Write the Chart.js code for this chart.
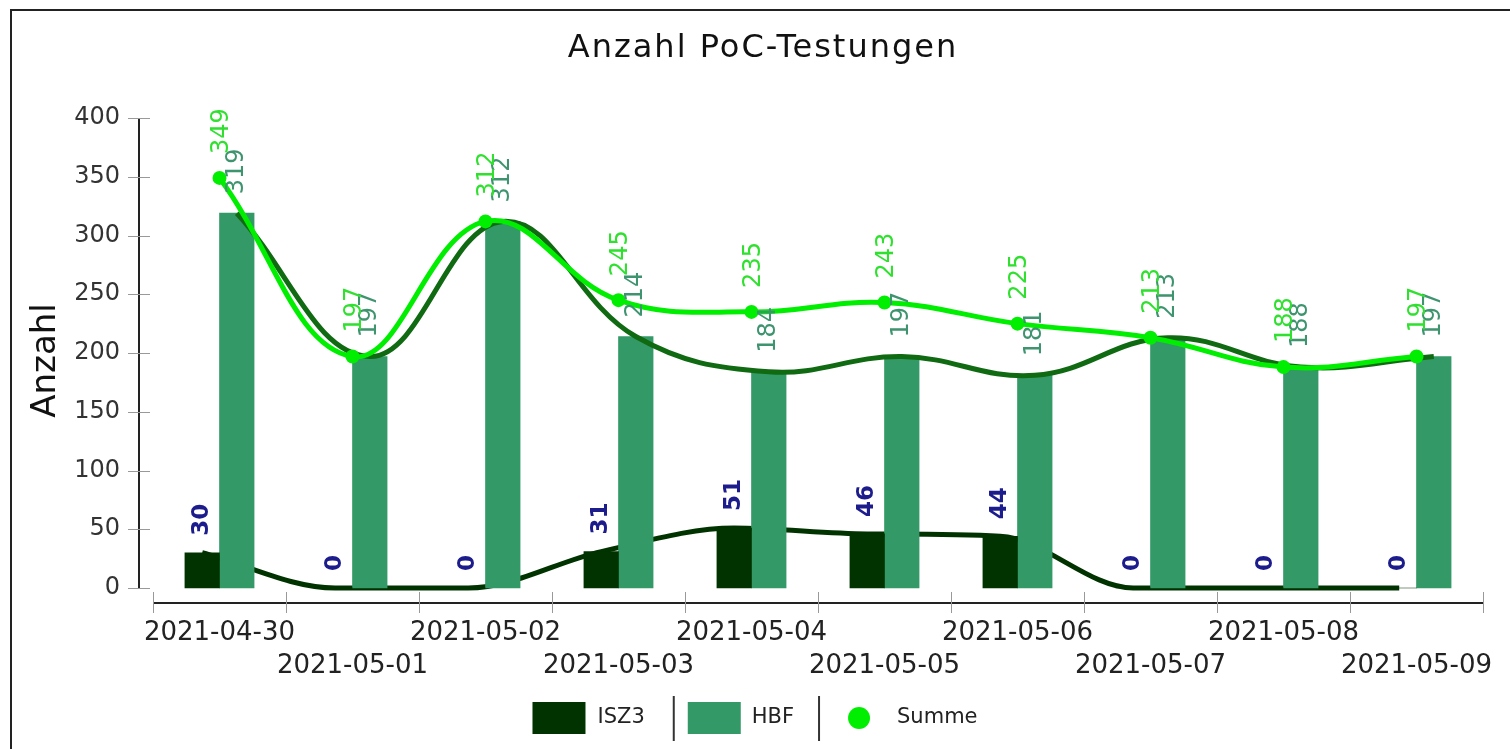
<!DOCTYPE html>
<html>
<head>
<meta charset="utf-8">
<script src="https://cdn.jsdelivr.net/npm/chart.js@4.4.1/dist/chart.umd.min.js"></script>
<style>
html,body{margin:0;padding:0;background:#fff;overflow:hidden}
#wrap{position:relative;width:1510px;height:749px}
</style>
</head>
<body>
<div id="wrap"><canvas id="c" width="1510" height="749"></canvas></div>
<script>
// ---- data ----
const categories = ['2021-04-30','2021-05-01','2021-05-02','2021-05-03','2021-05-04','2021-05-05','2021-05-06','2021-05-07','2021-05-08','2021-05-09'];
const isz3Values = [30, 0, 0, 31, 51, 46, 44, 0, 0, 0];
const hbfValues = [319, 197, 312, 214, 184, 197, 181, 213, 188, 197];
const summeValues = [349, 197, 312, 245, 235, 243, 225, 213, 188, 197];
const yTickValues = [0, 50, 100, 150, 200, 250, 300, 350, 400];
const chartTitle = 'Anzahl PoC-Testungen';
const yAxisTitle = 'Anzahl';
const seriesNames = ['ISZ3', 'HBF', 'Summe'];

// ---- styles / layout ----
const C_ISZ3 = '#003300';
const C_HBF = '#339966';
const C_HBF_LINE = '#0f6a12';
const C_SUM = '#00ee00';
const FONT = '"DejaVu Sans", Verdana, sans-serif';
const PAD_LEFT = 12, Y_SCALE_W = 141, PAD_RIGHT = 27, CANVAS_W = 1510;
const PLOT_W = CANVAS_W - PAD_LEFT - Y_SCALE_W - PAD_RIGHT;
const GROUP_PCT = 0.52;                       // share of a category taken by the two bars
const barOff = GROUP_PCT / 4;                 // bar centre offset from category centre (category units)
const BAR_PX = PLOT_W / categories.length * GROUP_PCT / 2;

const yMax = 400;
const yMin = -yMax * 15 / 470; // gap between value 0 and the x axis line

function points(values, off) {
  return values.map((v, i) => ({ x: i + off, y: v }));
}

const decorPlugin = {
  id: 'decor',
  beforeDraw(chart) {
    const ctx = chart.ctx;
    ctx.save();
    ctx.fillStyle = '#fff';
    ctx.fillRect(0, 0, chart.width, chart.height);
    ctx.restore();
  },
  afterDraw(chart) {
    const ctx = chart.ctx;
    const ca = chart.chartArea;
    const ys = chart.scales.y;
    ctx.save();
    // outer frame
    ctx.strokeStyle = '#222';
    ctx.lineWidth = 2;
    ctx.beginPath();
    ctx.moveTo(11, chart.height);
    ctx.lineTo(11, 10);
    ctx.lineTo(chart.width, 10);
    ctx.stroke();

    // title
    ctx.fillStyle = '#111';
    ctx.font = '32px ' + FONT;
    ctx.textAlign = 'center';
    ctx.textBaseline = 'alphabetic';
    if ('letterSpacing' in ctx) ctx.letterSpacing = '2px';
    ctx.fillText(chartTitle, chart.width / 2 + 8, 57);
    if ('letterSpacing' in ctx) ctx.letterSpacing = '0px';

    // y axis line + ticks
    const axX = ca.left - 14;
    ctx.strokeStyle = '#222';
    ctx.lineWidth = 2;
    ctx.beginPath();
    ctx.moveTo(axX, ys.getPixelForValue(yTickValues[yTickValues.length - 1]));
    ctx.lineTo(axX, ys.getPixelForValue(0));
    ctx.stroke();
    ctx.strokeStyle = '#999';
    ctx.lineWidth = 1;
    yTickValues.forEach(v => {
      const py = Math.round(ys.getPixelForValue(v)) + 0.5;
      ctx.beginPath();
      ctx.moveTo(axX - 11, py);
      ctx.lineTo(axX + 11, py);
      ctx.stroke();
    });

    // x axis line + boundary ticks
    const xb = ca.bottom;
    ctx.strokeStyle = '#222';
    ctx.lineWidth = 2;
    ctx.beginPath();
    ctx.moveTo(ca.left, xb);
    ctx.lineTo(ca.right, xb);
    ctx.stroke();
    ctx.strokeStyle = '#999';
    ctx.lineWidth = 1;
    const n = categories.length;
    const w = (ca.right - ca.left) / n;
    for (let i = 0; i <= n; i++) {
      const px = Math.round(ca.left + i * w) + 0.5;
      ctx.beginPath();
      ctx.moveTo(px, xb - 11);
      ctx.lineTo(px, xb + 10);
      ctx.stroke();
    }

    // legend
    ctx.font = '21px ' + FONT;
    ctx.textBaseline = 'middle';
    ctx.textAlign = 'left';
    const ly = 718;
    const boxW = 53, boxH = 32, r = 11;
    const t0 = ctx.measureText(seriesNames[0]).width;
    const t1 = ctx.measureText(seriesNames[1]).width;
    const t2 = ctx.measureText(seriesNames[2]).width;
    const total = boxW + 12 + t0 + 29 + 14 + boxW + 11 + t1 + 25 + 29 + 2 * r + 27 + t2;
    let lx = chart.width / 2 - total / 2;
    ctx.fillStyle = C_ISZ3;
    ctx.fillRect(lx, ly - boxH / 2, boxW, boxH);
    lx += boxW + 12;
    ctx.fillStyle = '#222';
    ctx.fillText(seriesNames[0], lx, ly);
    lx += t0 + 29;
    ctx.strokeStyle = '#333';
    ctx.lineWidth = 2;
    ctx.beginPath(); ctx.moveTo(lx, ly - 22); ctx.lineTo(lx, ly + 23); ctx.stroke();
    lx += 14;
    ctx.fillStyle = C_HBF;
    ctx.fillRect(lx, ly - boxH / 2, boxW, boxH);
    lx += boxW + 11;
    ctx.fillStyle = '#222';
    ctx.fillText(seriesNames[1], lx, ly);
    lx += t1 + 25;
    ctx.beginPath(); ctx.moveTo(lx, ly - 22); ctx.lineTo(lx, ly + 23); ctx.stroke();
    lx += 29;
    ctx.fillStyle = C_SUM;
    ctx.beginPath(); ctx.arc(lx + r, ly, r, 0, Math.PI * 2); ctx.fill();
    lx += 2 * r + 27;
    ctx.fillStyle = '#222';
    ctx.fillText(seriesNames[2], lx, ly);
    ctx.restore();
  }
};

const labelPlugin = {
  id: 'valueLabels',
  afterDatasetsDraw(chart) {
    const ctx = chart.ctx;
    const draw = (text, x, y, font, color) => {
      ctx.save();
      ctx.translate(x, y);
      ctx.rotate(-Math.PI / 2);
      ctx.font = font;
      ctx.fillStyle = color;
      ctx.textAlign = 'left';
      ctx.textBaseline = 'middle';
      ctx.fillText(text, 0, 0);
      ctx.restore();
    };
    const mIsz = chart.getDatasetMeta(0).data;
    const mHbf = chart.getDatasetMeta(1).data;
    const mSum = chart.getDatasetMeta(4).data;
    isz3Values.forEach((v, i) => {
      const el = mIsz[i];
      draw(String(v), el.x, el.y - 17, 'bold 23px ' + FONT, '#1c1c8c');
    });
    hbfValues.forEach((v, i) => {
      const el = mHbf[i];
      draw(String(v), el.x, el.y - 19, '24px ' + FONT, '#3f9470');
    });
    summeValues.forEach((v, i) => {
      const el = mSum[i];
      draw(String(v), el.x + 2, el.y - 24, '24px ' + FONT, '#2fe02f');
    });
  }
};

new Chart(document.getElementById('c'), {
  data: {
    labels: categories,
    datasets: [
      { type: 'bar', label: seriesNames[0], data: points(isz3Values, -barOff), xAxisID: 'xl',
        backgroundColor: C_ISZ3, order: 3, grouped: false, barThickness: BAR_PX },
      { type: 'bar', label: seriesNames[1], data: points(hbfValues, barOff), xAxisID: 'xl',
        backgroundColor: C_HBF, order: 3, grouped: false, barThickness: BAR_PX },
      { type: 'line', label: seriesNames[0] + ' Trend', data: points(isz3Values, -barOff), xAxisID: 'xl',
        borderColor: C_ISZ3, borderWidth: 5, pointRadius: 0, cubicInterpolationMode: 'monotone',
        order: 4, fill: false },
      { type: 'line', label: seriesNames[1] + ' Trend', data: points(hbfValues, barOff), xAxisID: 'xl',
        borderColor: C_HBF_LINE, borderWidth: 5, pointRadius: 0, tension: 0.4, order: 2, fill: false },
      { type: 'line', label: seriesNames[2], data: points(summeValues, 0), xAxisID: 'xl',
        borderColor: C_SUM, borderWidth: 5, pointRadius: 7, pointBackgroundColor: C_SUM,
        pointBorderWidth: 0, tension: 0.4, order: 1, fill: false }
    ]
  },
  options: {
    responsive: false,
    animation: false,
    devicePixelRatio: 1,
    layout: { padding: { left: PAD_LEFT, right: PAD_RIGHT, top: 118, bottom: 0 } },
    plugins: {
      legend: { display: false },
      title: { display: false },
      tooltip: { enabled: false }
    },
    scales: {
      x: {
        type: 'category',
        offset: true,
        grid: { display: false, drawTicks: false },
        border: { display: false },
        ticks: {
          autoSkip: false, maxRotation: 0, minRotation: 0, padding: 13,
          color: '#222',
          font: { family: FONT, size: 26, lineHeight: 1.3 },
          callback: function (val, idx) {
            const l = this.getLabelForValue(val);
            return idx % 2 === 0 ? [l] : ['', l];
          }
        },
        afterFit(scale) { scale.height = 146; }
      },
      xl: {
        type: 'linear', display: false, offset: false, min: -0.5, max: categories.length - 0.5
      },
      y: {
        type: 'linear',
        min: yMin, max: yMax,
        grid: { display: false, drawTicks: false },
        border: { display: false },
        ticks: { padding: 33, color: '#333', font: { family: FONT, size: 24 } },
        afterBuildTicks(scale) { scale.ticks = yTickValues.map(v => ({ value: v })); },
        title: { display: true, text: yAxisTitle, color: '#111',
          font: { family: FONT, size: 34 }, padding: { top: 14, bottom: 0 } },
        afterFit(scale) { scale.width = Y_SCALE_W; }
      }
    }
  },
  plugins: [decorPlugin, labelPlugin]
});
</script>
</body>
</html>
